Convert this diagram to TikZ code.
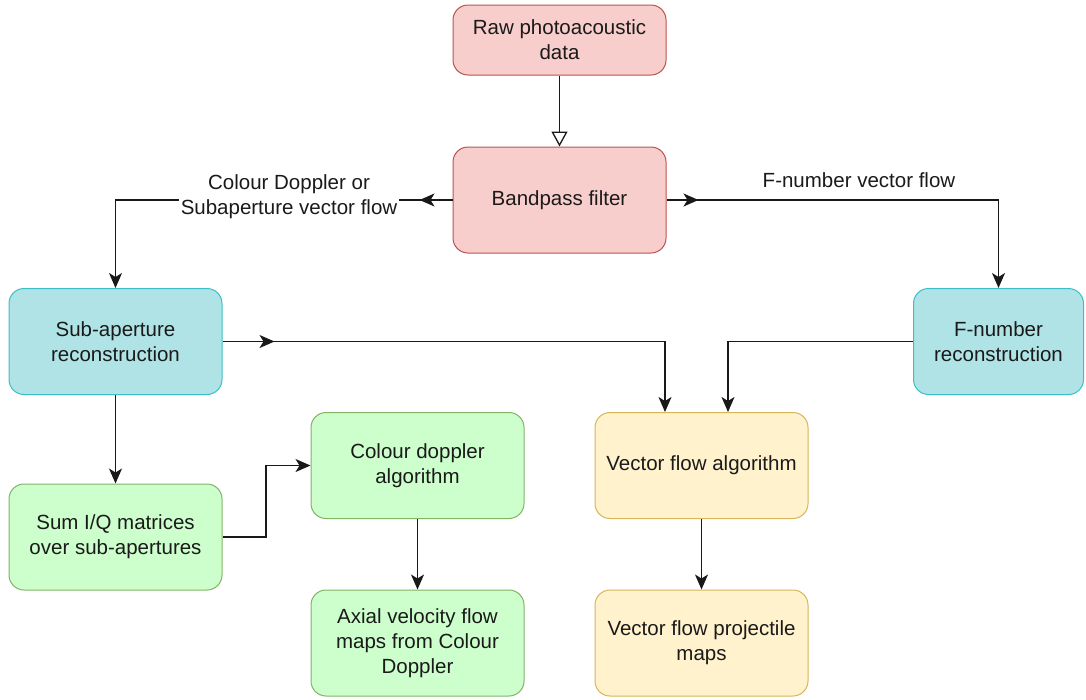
\documentclass[tikz,border=0pt]{standalone}
\usepackage{fontspec}
\setmainfont{Liberation Sans}
\usetikzlibrary{arrows.meta,decorations.markings}
\definecolor{redfill}{HTML}{F8CECC}
\definecolor{redline}{HTML}{B85450}
\definecolor{tealfill}{HTML}{B0E3E6}
\definecolor{tealline}{HTML}{3CBFC5}
\definecolor{greenfill}{HTML}{CCFFCC}
\definecolor{greenline}{HTML}{82B366}
\definecolor{yelfill}{HTML}{FFF2CC}
\definecolor{yelline}{HTML}{D6B656}
\definecolor{txt}{HTML}{1A1A1A}
\tikzset{
  box/.style={rounded corners=15pt, line width=1pt, minimum width=213pt, minimum height=106pt,
    inner sep=0pt, align=center, text=txt, font=\fontsize{20.5}{25}\selectfont},
  redbox/.style={box, fill=redfill, draw=redline},
  tealbox/.style={box, fill=tealfill, draw=tealline},
  greenbox/.style={box, fill=greenfill, draw=greenline},
  yelbox/.style={box, fill=yelfill, draw=yelline},
  conn/.style={line width=1.3pt, draw=black!90, -{Stealth[length=15pt,width=13pt,inset=4pt]}},
  hollow/.style={line width=1.3pt, draw=black!90, -{Triangle[open,length=15pt,width=16pt]}},
  midarrow/.style={postaction={decorate}, decoration={markings,
     mark=at position #1 with {\arrow{Stealth[length=15pt,width=13pt,inset=4pt]}}}},
  lbl/.style={text=txt, font=\fontsize{20.5}{25}\selectfont, align=center, inner sep=2pt}
}
\begin{document}
\begin{tikzpicture}[x=1pt,y=-1pt]
\useasboundingbox (0,0) rectangle (1086,699);
\node[redbox, minimum height=70pt] (raw) at (559.5,40) {Raw photoacoustic\\data};
\node[redbox] (bp) at (559.5,200) {Bandpass filter};
\node[tealbox] (sub) at (115.5,341.5) {Sub-aperture\\reconstruction};
\node[tealbox, minimum width=170pt] (fn) at (998.5,341.5) {F-number\\reconstruction};
\node[yelbox] (vfa) at (701.5,465.5) {Vector flow algorithm};
\node[greenbox] (cda) at (417.5,465.5) {Colour doppler\\algorithm};
\node[greenbox] (sum) at (115.5,537) {Sum I/Q matrices\\over sub-apertures};
\node[greenbox] (ax) at (417.5,643) {Axial velocity flow\\maps from Colour\\Doppler};
\node[yelbox] (vfp) at (701.5,643) {Vector flow projectile\\maps};

\draw[hollow] (raw.south) -- (bp.north);
\draw[conn, midarrow=33pt] (bp.west) -| (sub.north);
\node[lbl, fill=white] (l1) at (289,197) {Colour Doppler or\\Subaperture vector flow};
\draw[conn, midarrow=32pt] (bp.east) -| (fn.north);
\node[lbl] (l2) at (859,180) {F-number vector flow};
\draw[conn, midarrow=52pt] (sub.east) -| ([xshift=-36.5pt]vfa.north);
\draw[conn] (fn.west) -| ([xshift=26.5pt]vfa.north);
\draw[conn] (sub.south) -- (sum.north);
\coordinate (j) at (266,537);
\draw[conn] (sum.east) -- (j) |- (cda.west);
\draw[conn] (cda.south) -- (ax.north);
\draw[conn] (vfa.south) -- (vfp.north);
\end{tikzpicture}
\end{document}
